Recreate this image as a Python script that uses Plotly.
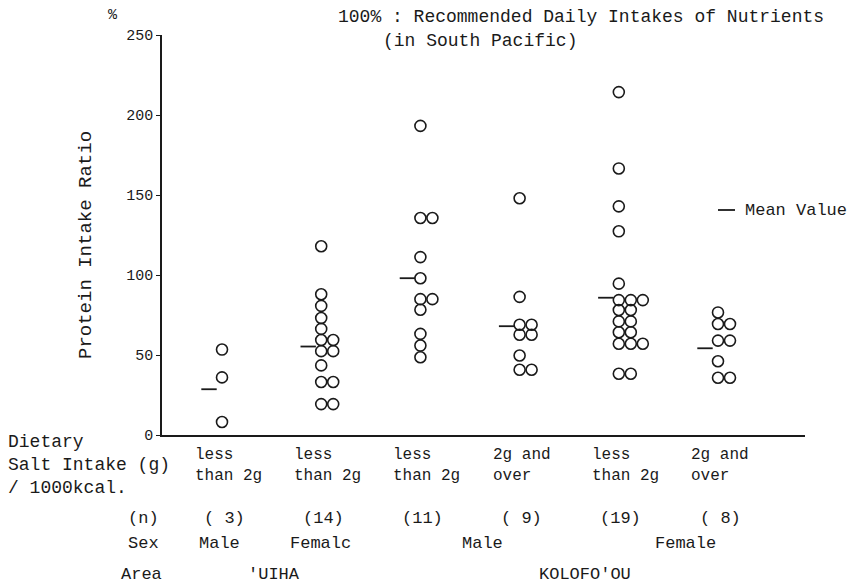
import plotly.graph_objects as go

# ---------------- data ----------------
groups = [1, 2, 3, 4, 5, 6]
salt_labels = ["less<br>than 2g", "less<br>than 2g", "less<br>than 2g",
               "2g and<br>over", "less<br>than 2g", "2g and<br>over"]
n_labels = ["( 3)", "(14)", "(11)", "( 9)", "(19)", "( 8)"]

g1 = [53.4, 36.0, 8.1]
g2 = [118.0, 88.0, 80.7, 73.1, 66.3, 59.4, 59.4, 52.4, 52.4, 43.5, 33.1, 33.1, 19.3, 19.3]
g3 = [193.2, 135.6, 135.6, 111.2, 98.0, 84.9, 84.9, 78.3, 63.2, 55.9, 48.6]
g4 = [148.0, 86.3, 68.9, 68.9, 62.7, 62.7, 49.7, 40.8, 40.8]
g5 = [214.3, 166.6, 142.9, 127.3, 94.6, 84.3, 84.3, 84.3, 78.1, 78.1, 71.0, 71.0,
      64.2, 64.2, 57.0, 57.0, 57.0, 38.3, 38.3]
g6 = [76.6, 69.4, 69.4, 59.0, 59.0, 46.1, 35.8, 35.8]
series = [g1, g2, g3, g4, g5, g6]
means = [28.6, 55.3, 98.0, 68.0, 85.8, 54.2]

y_ticks = [0, 50, 100, 150, 200, 250]

# ---------------- layout helpers ----------------
L, R, T, B = 162, 805, 35, 435   # plot area in pixels
X0, X1 = 0.395, 6.877
UNIT = (R - L) / (X1 - X0)       # px per x unit

def px(p):
    return (p - L) / (R - L)

def py(p):
    return (B - p) / (B - T)

FONT = "Liberation Mono, DejaVu Sans Mono, monospace"
BLACK = "#1a1a1a"

fig = go.Figure()

# points, stacked side by side when equal values
xs, ys = [], []
col_step = 12.0 / UNIT
for g, vals in zip(groups, series):
    seen = {}
    for v in vals:
        k = seen.get(v, 0)
        seen[v] = k + 1
        xs.append(g + k * col_step)
        ys.append(v)

fig.add_trace(go.Scatter(
    x=xs, y=ys, mode="markers",
    marker=dict(symbol="circle-open", size=11, color=BLACK, line=dict(width=1.6, color=BLACK)),
    showlegend=False, hoverinfo="y", cliponaxis=False))

# mean dashes
fig.add_trace(go.Scatter(
    x=[g - 13.0 / UNIT for g in groups], y=means, mode="markers",
    marker=dict(symbol="line-ew", size=11, line=dict(width=1.8, color=BLACK)),
    showlegend=False, hoverinfo="y", cliponaxis=False))

fig.update_xaxes(range=[X0, X1], showline=True, linecolor=BLACK, linewidth=1.5,
                 showticklabels=False, ticks="", showgrid=False, zeroline=False)
fig.update_yaxes(range=[0, 250], tickvals=y_ticks, ticks="outside", ticklen=4,
                 tickwidth=1.2, tickcolor=BLACK,
                 showline=True, linecolor=BLACK, linewidth=1.5, showgrid=False,
                 zeroline=False, tickfont=dict(family=FONT, size=15, color=BLACK))

ann = []

def txt(x, y, s, size=17, xanchor="left", xref="paper", align="left", angle=0):
    ann.append(dict(x=x, y=y, xref=xref, yref="paper", text=s, showarrow=False,
                    xanchor=xanchor, yanchor="middle", align=align, textangle=angle,
                    font=dict(family=FONT, size=size, color=BLACK)))

# top texts
txt(px(113), py(16), "%", size=15, xanchor="center")
txt(px(336), py(17), "100% : Recommended Daily Intakes of Nutrients", size=18)
txt(px(381), py(41), "(in South Pacific)", size=18)

# y title
txt(px(86), py(245), "Protein Intake Ratio", size=19, xanchor="center", angle=-90)

# legend
txt(px(743), py(210), "Mean Value", size=17)
shapes = [dict(type="line", xref="paper", yref="paper",
               x0=px(718), x1=px(735), y0=py(210), y1=py(210),
               line=dict(color=BLACK, width=1.8))]

# row labels
txt(px(6), py(442), "Dietary", size=18)
txt(px(6), py(465), "Salt Intake (g)", size=18)
txt(px(6), py(488), "/ 1000kcal.", size=18)
txt(px(143), py(518), "(n)", size=17, xanchor="center")
txt(px(143), py(543), "Sex", size=17, xanchor="center")
txt(px(141), py(574), "Area", size=17, xanchor="center")

for g, s, n in zip(groups, salt_labels, n_labels):
    ann.append(dict(x=g - 29.0 / UNIT, y=py(466), xref="x", yref="paper", text=s,
                    showarrow=False, xanchor="left", yanchor="middle", align="left",
                    font=dict(family=FONT, size=16, color=BLACK)))
    ann.append(dict(x=g + 2.0 / UNIT, y=py(518), xref="x", yref="paper", text=n,
                    showarrow=False, xanchor="center", yanchor="middle",
                    font=dict(family=FONT, size=17, color=BLACK)))

# sex / area
txt(px(219), py(543), "Male", xanchor="center")
txt(px(320), py(543), "Femalc", xanchor="center")
txt(px(482), py(543), "Male", xanchor="center")
txt(px(685), py(543), "Female", xanchor="center")
txt(px(274), py(574), "'UIHA", xanchor="center")
txt(px(585), py(574), "KOLOFO'OU", xanchor="center")

fig.update_layout(
    width=850, height=586,
    margin=dict(l=L, r=850 - R, t=T, b=586 - B),
    paper_bgcolor="white", plot_bgcolor="white",
    annotations=ann, shapes=shapes, showlegend=False,
)

fig.write_html("out.html")
